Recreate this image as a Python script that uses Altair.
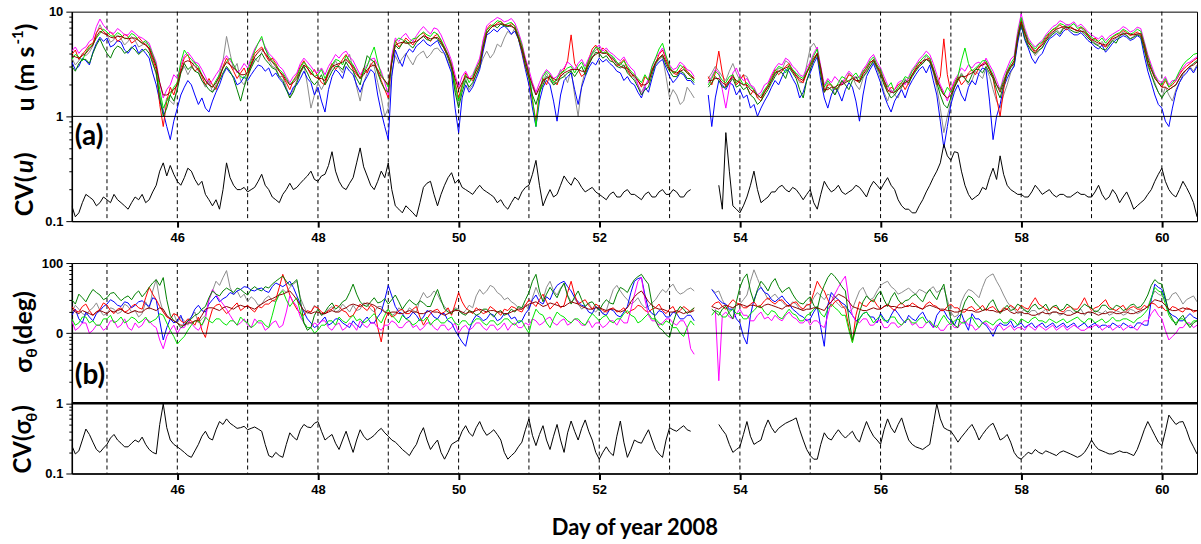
import altair as alt
import pandas as pd

N = None
DAYS = [round(44.5 + 0.05 * i, 2) for i in range(321)]
GRID_DAYS = list(range(45, 61))
X_TICKS = [46, 48, 50, 52, 54, 56, 58, 60]
U_TICKS = [0.1, 0.2, 0.3, 0.4, 0.5, 0.6, 0.7, 0.8, 0.9, 1, 2, 3, 4, 5, 6, 7, 8, 9, 10]
S_TICKS = [0.1, 0.2, 0.3, 0.4, 0.5, 0.6, 0.7, 0.8, 0.9, 1, 2, 3, 4, 5, 6, 7, 8, 9,
           10, 20, 30, 40, 50, 60, 70, 80, 90, 100]

# ---------------- panel (a): wind speed u (m/s), one row per day ----------------
U_GRAY = [3.6,3.1,3.4,4.0,3.8,4.1,4.7,6.2,7.5,6.4,6.0,5.1,5.4,6.0,5.5,4.8,5.2,5.8,5.3,4.6,
          4.8,5.1,4.3,3.3,2.5,1.6,1.1,1.5,1.4,1.3,1.9,2.6,3.0,2.5,2.9,3.3,2.7,2.2,1.9,2.2,
          1.7,2.0,2.6,3.4,5.8,4.0,2.8,3.2,2.2,2.0,2.5,3.0,3.6,3.3,4.1,4.6,3.5,3.0,2.9,2.4,
          2.4,1.9,1.5,1.8,2.2,2.7,3.1,2.0,1.2,1.6,2.1,1.8,2.1,2.5,2.9,3.4,2.9,2.6,3.4,3.9,
          2.8,1.9,1.4,2.1,2.6,3.2,3.0,2.1,1.5,1.0,1.2,2.6,3.8,3.2,3.6,4.0,3.5,3.1,3.7,4.0,
          4.2,3.6,3.9,4.4,4.5,4.1,4.0,3.3,2.8,1.8,1.3,1.9,2.3,1.8,2.0,2.5,2.9,3.6,4.2,3.6,
          4.0,4.9,4.6,5.6,6.5,6.0,7.0,5.8,4.4,3.0,2.4,1.9,1.6,1.8,2.1,2.6,2.2,2.0,2.3,2.8,
          2.5,2.1,2.8,1.6,1.0,2.0,2.7,3.3,3.9,4.3,4.5,4.0,4.3,3.8,3.6,3.1,3.3,2.9,2.7,2.6,
          2.3,2.0,1.7,2.0,2.2,2.7,3.1,3.5,3.7,2.4,1.5,1.8,1.6,1.3,1.4,1.9,1.7,1.5,N,N,
          N,2.3,2.6,3.0,2.7,2.4,2.2,2.7,3.2,2.6,2.2,2.5,2.4,2.0,1.8,1.5,1.6,1.8,1.9,2.2,
          2.5,2.9,2.8,3.4,3.2,2.8,2.5,2.1,2.1,3.1,4.5,5.0,4.3,2.6,1.7,2.1,2.0,1.6,1.8,2.2,
          2.1,2.6,2.4,2.0,1.8,2.3,2.7,3.0,3.3,2.8,2.3,1.7,1.4,1.8,1.6,1.5,1.9,2.3,2.0,2.5,
          2.8,3.1,3.3,3.8,3.4,2.6,1.9,1.2,0.7,1.0,1.4,1.9,2.2,2.6,2.3,2.0,2.2,2.7,2.5,2.3,
          2.9,2.4,1.8,1.4,1.2,1.6,2.0,2.6,3.1,5.5,8.0,6.0,4.8,4.3,3.8,4.2,4.6,5.2,5.8,6.3,
          6.8,6.3,7.1,7.6,7.2,6.8,6.6,7.0,6.4,5.8,5.4,5.0,4.8,5.2,4.6,4.9,5.3,5.6,5.9,6.4,
          6.0,5.5,5.8,6.2,5.9,4.5,3.0,2.5,2.1,1.7,1.5,1.9,1.6,1.4,1.8,2.1,2.5,2.8,3.0,2.7,
          3.1]
U_BLUE = [3.3,2.8,3.0,3.6,3.4,3.1,4.1,5.0,5.7,5.2,5.6,4.6,4.8,5.3,5.1,4.3,4.0,4.5,4.8,4.0,
          4.4,4.0,3.6,2.6,2.0,1.4,1.1,0.8,0.6,0.9,1.2,1.6,1.9,2.2,2.0,1.6,1.3,1.5,1.2,1.1,
          1.4,1.7,2.0,2.5,2.9,2.6,2.4,2.0,2.1,2.4,2.2,2.5,2.8,3.1,3.0,2.7,2.9,2.4,2.6,2.3,
          2.1,1.8,1.6,1.9,2.0,2.3,2.7,2.3,2.1,1.6,1.9,1.4,1.1,1.8,2.4,2.8,2.6,2.3,3.0,2.7,
          2.5,2.0,1.7,2.1,2.4,2.8,2.6,1.6,1.1,0.8,0.6,2.4,4.3,3.5,3.0,3.9,4.4,4.1,4.7,5.0,
          5.4,4.9,4.7,5.0,5.3,4.5,4.0,3.2,2.6,1.2,0.7,1.5,2.0,1.7,1.9,2.3,2.8,4.2,6.0,6.3,
          6.8,6.4,7.0,7.3,6.8,6.1,6.5,5.5,4.0,2.8,2.0,1.2,0.8,1.4,1.9,2.2,2.0,1.4,0.9,1.6,
          2.2,2.4,2.6,1.8,1.3,1.9,2.4,2.9,3.3,3.1,3.6,3.3,3.5,3.2,3.0,2.7,2.6,2.2,2.4,2.1,
          2.0,1.7,1.5,1.9,1.7,2.3,3.0,3.3,3.5,2.9,2.4,2.1,2.3,2.6,2.5,2.2,2.2,2.0,N,N,
          N,1.6,0.8,1.5,2.2,2.0,1.8,2.1,2.0,1.6,1.8,1.5,1.6,1.2,1.3,1.0,1.2,1.4,1.6,1.9,
          2.2,2.0,2.4,2.8,2.7,2.3,2.0,1.5,1.7,2.2,2.6,3.2,3.7,2.2,1.5,1.2,1.6,1.9,1.7,1.4,
          1.8,2.1,1.9,1.4,0.9,1.6,2.4,2.8,3.2,2.6,2.1,1.6,1.3,1.1,1.4,1.6,1.8,1.5,1.9,2.2,
          2.5,2.8,3.0,2.6,3.1,2.2,1.6,0.9,0.5,0.8,1.3,1.7,2.0,1.6,1.4,1.9,2.2,2.0,2.6,2.9,
          2.8,1.4,0.6,1.0,1.3,1.9,2.3,2.7,3.0,5.0,7.5,5.4,4.5,3.6,3.2,3.7,4.0,4.8,5.5,5.8,
          6.2,5.8,6.5,6.9,6.4,6.0,6.0,6.3,5.8,5.3,5.0,4.6,4.4,4.8,4.1,4.5,5.0,5.4,5.6,5.9,
          5.7,5.3,5.5,5.9,5.6,3.8,2.7,2.1,1.6,1.3,1.2,0.9,0.8,1.2,1.7,2.1,2.4,2.6,2.9,2.6,
          3.0]
U_RED = [3.9,4.3,3.5,3.9,4.3,4.8,5.0,6.3,7.0,6.5,6.0,6.4,5.9,5.2,5.5,6.1,5.8,5.0,5.3,5.7,
         5.2,4.8,4.4,3.5,2.8,1.3,0.8,1.4,1.9,1.6,2.1,2.9,3.6,3.9,3.1,2.7,2.9,2.4,2.0,2.3,
         2.0,1.8,2.3,3.0,3.6,3.1,2.7,2.3,2.6,2.9,2.4,3.2,4.0,4.3,4.6,3.9,3.4,3.6,3.2,2.7,
         2.4,2.1,1.8,2.2,2.5,3.0,3.4,2.9,2.5,2.8,2.4,2.1,2.0,2.7,3.2,2.8,3.1,3.5,3.9,3.3,
         2.8,2.5,2.3,2.9,2.6,3.1,3.4,2.7,2.2,1.8,1.5,3.6,5.3,4.6,5.0,5.6,5.2,4.8,5.5,6.0,
         6.3,5.6,5.2,5.8,6.1,5.3,4.3,3.8,3.2,2.1,1.5,2.0,2.6,2.3,2.2,2.8,3.4,5.2,6.8,7.5,
         7.2,7.8,8.1,7.5,7.2,7.7,7.3,5.6,4.2,3.0,2.3,1.4,0.9,1.7,2.3,2.0,2.5,2.2,2.0,2.5,
         2.8,3.4,6.0,3.2,2.8,2.4,2.6,3.5,4.4,4.8,4.0,4.5,4.2,3.7,3.3,3.0,3.2,3.5,2.8,2.4,
         2.5,2.2,1.9,2.4,2.2,2.8,3.2,3.9,4.3,3.5,2.9,2.6,2.5,2.8,3.0,2.7,2.5,2.3,N,N,
         N,2.4,2.0,2.6,4.2,2.6,1.9,2.2,2.5,2.0,2.2,2.5,1.9,1.6,1.8,1.5,1.4,1.7,2.0,2.4,
         2.8,2.5,2.7,3.0,3.2,2.7,2.4,2.2,2.1,2.6,3.2,3.6,4.0,2.6,1.7,2.0,2.0,1.8,1.9,2.1,
         2.2,2.5,2.4,2.2,2.1,2.6,3.0,3.3,3.4,3.0,2.7,2.1,1.7,1.9,1.8,2.0,2.1,1.8,2.1,2.5,
         2.9,3.3,3.2,3.5,3.6,2.8,2.0,2.4,5.5,2.5,1.7,2.1,2.4,2.0,2.2,2.6,2.8,2.5,2.9,3.2,
         3.3,2.8,2.3,1.5,1.0,1.8,2.7,3.0,3.3,5.8,8.2,6.2,5.2,4.5,4.0,4.6,5.0,5.6,6.2,6.7,
         7.0,7.5,7.0,6.7,7.2,6.8,6.5,7.1,6.8,5.9,5.3,5.6,5.2,4.8,4.6,5.2,5.7,6.0,6.2,6.6,
         6.3,5.9,6.1,6.4,6.0,4.6,3.2,2.8,2.4,2.1,1.9,2.2,1.9,2.0,2.2,2.5,2.8,3.0,3.2,3.4,
         3.6]
U_MAGENTA = [4.2,4.6,4.0,4.4,4.6,5.2,5.5,7.2,8.5,7.4,6.8,6.3,6.2,6.9,6.5,6.0,6.0,6.6,6.2,5.8,
             5.6,5.3,5.0,4.0,3.3,2.1,1.5,1.8,2.0,2.5,2.3,3.1,3.8,4.1,3.7,3.3,3.2,2.8,2.4,2.0,
             2.2,2.5,2.8,3.4,3.8,3.4,3.1,2.6,2.8,3.2,2.9,3.6,4.4,5.0,5.5,4.6,4.0,3.7,3.4,3.0,
             2.8,2.4,2.1,2.4,2.6,3.2,3.6,3.3,3.0,2.7,2.6,2.9,2.5,3.0,3.4,3.9,3.6,4.0,4.2,3.7,
             3.4,2.9,2.5,2.8,3.1,3.5,3.6,3.1,2.7,2.1,1.6,3.8,5.6,5.2,5.8,6.2,5.5,5.2,5.9,6.6,
             7.2,6.6,6.1,7.0,6.8,6.0,5.0,4.2,3.4,2.5,1.9,2.4,2.7,2.3,2.5,3.0,3.6,5.4,7.3,7.9,
             8.3,8.8,8.5,8.0,8.2,8.6,7.8,6.4,5.0,3.6,2.8,2.1,1.7,2.1,2.5,2.8,2.6,2.3,2.4,2.7,
             2.9,3.3,3.1,2.8,3.2,3.5,3.0,3.6,4.1,4.5,4.8,4.2,4.5,4.1,3.9,3.6,3.4,3.7,3.2,2.9,
             2.7,2.0,1.6,1.9,2.3,3.0,3.6,4.0,4.5,3.7,3.1,2.8,2.9,3.3,3.1,2.8,2.7,2.4,N,N,
             N,2.1,2.4,2.8,2.6,1.8,1.2,1.9,2.6,2.9,2.4,2.2,2.3,2.0,1.9,1.6,1.7,2.0,2.1,2.5,
             2.9,3.2,3.1,3.6,3.4,3.0,2.8,2.5,2.4,2.9,3.3,4.0,4.6,3.0,2.0,2.3,2.1,2.4,2.2,2.0,
             2.4,2.7,2.5,2.3,2.4,2.8,3.1,3.6,3.9,3.3,2.9,2.4,2.0,1.7,1.8,2.1,2.2,2.0,2.4,2.8,
             3.1,3.5,3.8,4.2,3.9,3.2,2.5,2.0,1.7,1.4,1.8,2.2,2.5,2.9,2.7,3.1,2.9,3.2,3.3,3.0,
             3.6,3.1,2.7,2.2,1.8,2.4,2.9,3.5,3.8,6.5,9.5,7.0,5.6,5.0,4.6,5.0,5.3,6.0,6.6,7.2,
             7.5,8.2,7.9,7.4,7.6,8.0,7.2,7.6,7.0,6.4,6.0,5.7,5.5,5.9,5.3,5.8,6.1,6.4,6.7,7.2,
             6.9,6.4,6.6,7.1,6.9,5.2,3.9,3.1,2.5,2.2,2.1,2.4,2.0,2.2,2.2,2.6,2.9,3.2,3.3,3.5,
             3.7]
U_LIME = [3.5,3.9,3.7,3.4,4.1,4.6,4.9,5.6,6.2,6.8,6.4,5.9,5.8,6.3,6.0,5.5,5.6,6.2,5.9,5.3,
          5.0,5.3,4.7,3.9,3.1,1.8,1.2,1.4,1.6,1.9,2.1,3.3,4.3,3.8,3.5,3.2,3.0,2.5,2.2,2.0,
          1.9,2.2,2.5,2.9,3.3,3.6,3.1,2.7,2.4,2.3,2.7,3.4,4.2,5.0,5.8,4.4,3.8,3.4,3.1,2.8,
          2.6,2.3,2.0,2.2,2.4,2.9,3.3,3.0,2.8,2.4,2.5,2.8,2.3,2.7,3.1,3.5,3.4,3.1,3.8,3.4,
          3.1,2.7,2.3,2.6,3.0,3.8,4.6,3.3,2.5,2.2,1.9,3.4,5.2,5.6,5.4,5.0,5.1,5.5,5.6,6.0,
          6.4,6.0,5.8,6.4,6.1,5.4,4.6,3.9,3.1,2.0,1.4,1.9,2.5,2.1,2.4,2.9,3.3,4.9,6.6,7.2,
          7.6,8.2,8.0,7.4,7.7,7.9,7.3,6.0,4.8,3.4,2.6,1.5,0.8,1.6,2.4,2.7,2.5,2.1,2.3,2.6,
          2.7,2.9,3.0,2.6,3.0,3.3,2.8,3.4,4.0,4.6,4.4,4.0,4.1,3.9,3.7,3.3,3.1,3.4,3.0,2.7,
          2.5,2.3,2.1,2.5,2.2,3.0,3.6,4.4,5.0,3.8,3.0,2.6,2.7,3.1,2.9,2.6,2.5,2.2,N,N,
          N,2.0,2.3,2.7,2.5,2.2,2.1,2.4,2.5,2.1,2.3,2.0,2.1,1.9,1.8,1.6,1.5,1.8,2.0,2.3,
          2.7,3.0,2.9,2.6,3.1,2.8,2.6,2.4,2.3,2.7,3.1,3.8,4.4,2.8,1.9,2.2,2.0,1.8,2.1,2.4,
          2.3,2.1,2.4,2.6,2.3,2.7,2.9,3.4,3.7,3.1,2.8,2.2,1.9,2.1,1.7,1.9,2.1,2.4,2.3,2.7,
          3.0,3.3,3.6,3.9,3.6,2.9,2.3,1.8,1.6,1.9,1.7,2.0,2.4,3.4,4.5,3.2,2.7,2.9,3.1,3.4,
          3.4,2.9,2.5,2.0,1.8,2.2,2.7,3.2,3.6,6.0,8.8,6.6,5.3,4.8,4.4,4.9,5.1,5.8,6.3,6.8,
          7.1,7.7,7.5,7.0,7.3,7.7,6.9,7.2,6.7,6.1,5.7,5.4,5.2,5.6,5.0,5.5,5.8,6.1,6.3,6.8,
          6.5,6.1,6.3,6.8,6.5,5.0,3.7,2.9,2.4,2.1,2.0,2.3,1.9,2.1,2.3,2.7,3.1,3.4,3.6,3.9,
          4.0]
U_DKGREEN = [3.0,2.7,3.2,3.5,3.5,3.2,4.0,4.8,5.5,4.6,4.0,3.6,4.3,4.7,4.5,4.0,4.2,4.6,4.3,3.9,
             4.2,4.4,4.0,3.2,2.6,1.5,1.0,1.2,1.6,1.4,1.8,2.6,3.2,2.8,3.0,2.7,2.6,2.2,2.0,1.8,
             1.7,1.9,2.2,2.6,3.0,2.7,2.3,1.8,1.4,1.9,2.4,2.9,3.4,3.7,4.0,3.5,3.2,2.9,2.8,2.4,
             2.2,1.8,1.5,1.7,2.1,2.6,3.0,2.6,2.2,2.0,2.2,2.5,2.0,2.3,2.7,3.0,3.0,2.8,3.3,2.9,
             2.7,2.3,2.0,2.8,3.8,3.5,3.3,2.6,2.1,1.8,1.7,3.2,4.8,4.4,5.0,5.3,4.8,4.5,5.1,5.5,
             5.8,5.4,5.3,5.7,5.5,4.9,4.4,3.6,2.9,1.7,1.2,1.7,2.2,1.9,2.1,2.5,3.0,4.6,6.2,6.9,
             7.4,7.0,7.6,7.3,7.2,7.4,6.8,5.5,4.3,3.1,2.3,1.6,1.3,1.7,2.0,2.4,2.3,2.0,2.1,2.3,
             2.4,2.6,2.7,2.4,2.7,3.0,2.5,3.1,3.6,4.1,4.0,3.6,3.8,3.4,3.3,3.0,2.9,3.1,2.6,2.4,
             2.2,1.9,1.6,1.8,1.9,2.5,3.2,3.6,3.8,3.1,2.7,2.4,2.4,2.7,2.6,2.3,2.3,2.1,N,N,
             N,1.9,2.1,2.4,2.2,1.9,1.9,2.1,2.3,1.9,2.0,1.8,1.9,1.6,1.5,1.3,1.4,1.6,1.8,2.1,
             2.4,2.7,2.6,2.3,2.9,2.6,2.3,1.8,1.5,2.2,2.8,3.4,3.9,2.5,1.7,1.9,1.8,1.6,1.9,2.2,
             2.0,1.8,2.2,2.4,2.1,2.4,2.6,3.0,3.4,2.9,2.5,2.0,1.7,1.5,1.6,1.8,1.9,2.2,2.1,2.4,
             2.7,3.0,3.2,3.5,3.3,2.7,2.1,1.6,1.3,1.2,1.5,1.9,2.2,2.5,2.3,2.1,2.5,2.8,2.8,2.6,
             3.0,2.6,2.3,1.8,1.5,2.0,2.5,2.9,3.2,5.4,7.6,5.6,4.7,4.2,4.0,4.3,4.5,5.2,5.7,6.1,
             6.5,6.1,6.9,7.2,6.7,6.4,6.3,6.6,6.1,5.6,5.2,4.9,4.7,4.4,4.3,4.8,5.3,5.0,5.8,6.2,
             5.9,5.5,5.7,6.0,5.8,4.3,3.2,2.5,2.0,1.7,1.5,1.7,1.8,1.9,2.0,2.3,2.6,2.8,3.0,3.2,
             3.4]
U_DKRED = [3.8,3.7,3.6,3.8,4.0,4.4,4.8,5.8,6.5,6.2,6.0,5.7,5.6,5.8,5.8,5.6,5.5,5.6,5.6,5.3,
           5.0,4.8,4.5,3.7,3.0,2.1,1.6,1.6,1.7,1.8,2.0,2.7,3.3,3.4,3.3,3.0,2.8,2.5,2.2,2.0,
           1.9,2.1,2.4,2.9,3.3,3.1,2.9,2.7,2.5,2.5,2.6,3.1,3.7,4.1,4.4,4.0,3.6,3.3,3.0,2.7,
           2.5,2.2,2.0,2.1,2.3,2.7,3.1,2.9,2.6,2.4,2.3,2.3,2.2,2.6,3.0,3.1,3.2,3.3,3.5,3.2,
           3.0,2.6,2.3,2.5,2.8,3.0,3.1,2.8,2.4,2.2,2.0,3.3,4.8,5.0,5.1,5.0,5.0,5.1,5.2,5.5,
           5.9,5.7,5.5,5.6,5.7,5.1,4.5,3.8,3.0,2.3,1.8,2.1,2.4,2.3,2.3,2.7,3.1,4.6,6.3,6.9,
           7.4,7.5,7.7,7.5,7.4,7.2,7.0,5.7,4.5,3.4,2.5,2.0,1.6,1.9,2.2,2.3,2.4,2.3,2.2,2.4,
           2.6,2.7,2.8,2.8,2.8,2.7,2.7,3.2,3.7,3.9,4.1,4.0,4.0,3.7,3.5,3.2,3.0,2.9,2.9,2.6,
           2.4,2.2,2.0,2.0,2.1,2.7,3.3,3.6,3.9,3.3,2.8,2.7,2.6,2.7,2.8,2.6,2.4,2.3,N,N,
           N,2.2,2.2,2.3,2.3,2.1,2.0,2.2,2.4,2.2,2.1,2.0,2.0,1.8,1.7,1.6,1.5,1.7,1.9,2.2,
           2.6,2.7,2.8,2.9,3.0,2.7,2.5,2.3,2.2,2.6,3.0,3.5,4.0,2.9,1.8,1.8,1.9,1.9,2.0,2.0,
           2.1,2.2,2.3,2.2,2.2,2.5,2.8,3.2,3.5,3.0,2.6,2.2,1.8,1.7,1.7,1.8,2.0,2.1,2.2,2.5,
           2.8,3.1,3.4,3.5,3.4,2.8,2.2,1.9,1.6,1.5,1.6,1.9,2.3,2.4,2.4,2.5,2.6,2.8,3.0,3.1,
           3.2,2.8,2.4,2.0,1.7,2.1,2.6,3.0,3.4,5.7,8.0,6.3,5.0,4.6,4.2,4.5,4.8,5.4,6.0,6.4,
           6.8,7.0,7.2,7.1,7.0,6.8,6.6,6.5,6.4,5.9,5.5,5.2,5.0,4.9,4.8,5.1,5.5,5.7,6.0,6.1,
           6.2,6.1,6.0,6.1,6.2,4.8,3.5,2.8,2.3,2.1,1.9,1.9,1.8,1.9,2.0,2.3,2.6,2.8,3.0,3.1,
           3.3]
CV_U = [0.14,0.11,0.12,0.15,0.18,0.17,0.16,0.14,0.15,0.17,0.16,0.15,0.18,0.16,0.15,0.14,0.13,0.15,0.17,0.16,
        0.18,0.15,0.16,0.19,0.22,0.30,0.36,0.27,0.34,0.28,0.24,0.22,0.26,0.32,0.30,0.25,0.22,0.24,0.18,0.16,
        0.14,0.16,0.13,0.20,0.36,0.26,0.22,0.20,0.20,0.21,0.19,0.20,0.21,0.24,0.28,0.22,0.20,0.17,0.16,0.15,
        0.18,0.20,0.23,0.20,0.21,0.23,0.25,0.27,0.30,0.25,0.24,0.27,0.28,0.34,0.46,0.30,0.24,0.21,0.20,0.23,
        0.26,0.36,0.50,0.33,0.27,0.22,0.20,0.24,0.30,0.26,0.36,0.20,0.14,0.13,0.12,0.14,0.13,0.12,0.11,0.15,
        0.21,0.23,0.24,0.18,0.14,0.18,0.22,0.26,0.29,0.23,0.25,0.21,0.20,0.19,0.18,0.20,0.22,0.20,0.19,0.18,
        0.17,0.15,0.16,0.14,0.13,0.15,0.17,0.16,0.19,0.21,0.22,0.28,0.38,0.22,0.14,0.17,0.20,0.17,0.18,0.22,
        0.27,0.24,0.22,0.26,0.24,0.21,0.19,0.20,0.21,0.19,0.18,0.17,0.16,0.18,0.19,0.17,0.17,0.19,0.20,0.18,
        0.18,0.17,0.16,0.18,0.19,0.17,0.17,0.19,0.20,0.18,0.18,0.20,0.19,0.17,0.17,0.19,0.20,N,N,N,
        N,N,N,N,0.22,0.13,0.70,0.30,0.14,0.13,0.12,0.14,0.17,0.22,0.30,0.20,0.15,0.16,0.17,0.19,
        0.19,0.21,0.22,0.20,0.19,0.21,0.20,0.18,0.16,0.18,0.20,0.15,0.13,0.18,0.24,0.21,0.19,0.20,0.22,0.19,
        0.18,0.19,0.20,0.22,0.21,0.19,0.17,0.21,0.24,0.22,0.20,0.23,0.26,0.22,0.20,0.16,0.14,0.13,0.13,0.12,
        0.12,0.14,0.16,0.19,0.22,0.26,0.30,0.36,0.54,0.42,0.38,0.46,0.45,0.30,0.22,0.18,0.16,0.17,0.18,0.21,
        0.20,0.26,0.32,0.25,0.42,0.28,0.22,0.20,0.19,0.18,0.18,0.17,0.17,0.19,0.22,0.20,0.18,0.19,0.20,0.18,
        0.17,0.18,0.18,0.17,0.17,0.18,0.19,0.18,0.18,0.17,0.17,0.19,0.22,0.18,0.16,0.17,0.20,0.18,0.15,0.17,
        0.19,0.16,0.13,0.14,0.15,0.16,0.18,0.20,0.24,0.28,0.32,0.24,0.20,0.18,0.17,0.20,0.24,0.21,0.18,0.15,
        0.11]

# ---------------- panel (b): sigma_theta (deg), one row per day ----------------
S_GRAY = [20,25,22,19,18,21,23,27,21,18,19,23,22,19,20,26,24,20,21,17,
          19,28,22,40,58,30,20,18,16,19,14,17,15,13,17,20,14,16,18,30,
          40,55,48,62,78,45,35,40,32,36,28,33,30,25,26,31,34,29,28,36,
          42,38,45,50,55,32,24,19,20,25,22,18,19,22,24,20,21,26,23,20,
          25,21,22,27,26,22,20,24,24,20,22,18,19,23,21,19,23,21,20,30,
          38,32,34,40,36,28,24,21,20,23,22,19,21,25,23,34,42,36,40,48,
          45,38,35,30,32,28,26,23,22,26,21,32,45,34,30,45,55,40,35,44,
          50,35,28,31,26,22,24,27,22,20,23,19,21,30,42,48,40,34,30,26,
          28,32,26,23,24,27,30,36,42,38,45,50,40,36,38,42,44,40,N,N,
          N,N,42,38,40,30,24,21,22,25,26,30,35,55,80,60,45,38,30,33,
          36,31,28,25,24,28,26,22,22,26,25,32,38,34,30,36,34,29,26,23,
          24,20,22,30,40,45,35,30,32,40,48,52,55,46,42,36,38,41,44,39,
          36,42,40,37,42,46,38,41,44,30,20,17,18,28,36,42,40,36,32,45,
          60,66,70,55,45,35,28,24,22,19,20,22,19,21,21,18,20,22,18,20,
          20,18,19,21,21,19,20,22,18,20,19,21,20,19,21,18,19,21,20,18,
          19,22,21,19,20,22,24,32,40,36,34,30,30,36,38,32,26,30,32,34,
          28]
S_BLUE = [18,22,16,14,20,17,15,19,21,24,26,30,28,25,24,28,27,23,25,28,
          29,26,24,32,30,15,8,12,16,14,15,18,13,15,17,22,25,21,20,26,
          30,34,28,31,33,38,36,40,42,46,45,41,40,43,44,40,38,46,52,49,
          46,50,55,45,34,26,20,16,14,12,13,15,17,13,14,16,16,14,13,12,
          15,13,12,15,17,14,14,17,20,30,48,34,24,20,19,16,17,20,18,15,
          17,21,20,17,16,19,19,15,14,11,9,7.5,6.5,11,15,18,17,15,16,19,
          18,15,16,19,19,16,17,14,15,19,22,30,35,28,26,33,30,40,48,52,
          55,46,40,32,28,25,24,20,19,24,22,19,18,22,21,18,17,20,24,38,
          55,60,62,35,22,19,18,21,20,17,17,20,19,16,16,18,18,15,N,N,
          N,N,42,36,30,27,26,22,22,16,14,9,7,18,30,40,45,38,36,30,
          28,31,34,29,26,22,20,18,17,15,16,20,24,12,6.5,25,38,33,30,27,
          25,21,18,15,16,19,20,17,17,14,19,16,14,18,22,19,16,14,18,16,
          15,18,20,16,14,12,18,21,21,17,15,13,17,19,14,11,19,16,16,14,
          13,11,9,12,14,13,13,15,12,13,14,12,13,14,12,13,14,12,13,14,
          12,13,14,12,13,14,12,13,14,12,13,14,12,13,13,12,14,13,12,14,
          13,12,12,14,14,13,13,30,50,45,42,30,20,18,17,15,15,17,19,17,
          16]
S_RED = [24,21,20,24,26,21,18,20,22,27,25,21,19,22,23,20,21,24,26,23,
         22,32,45,36,30,24,20,17,16,19,18,15,14,16,15,13,17,11,8.7,15,
         22,25,26,22,19,21,24,27,21,23,25,22,20,24,23,26,26,29,30,45,
         69,50,35,27,22,19,18,21,20,24,23,20,19,21,22,25,24,21,20,17,
         18,22,26,23,21,25,23,12,7.5,15,20,17,18,21,22,19,19,22,24,17,
         13,16,19,21,22,19,20,23,18,26,38,28,23,21,19,23,21,19,20,24,
         22,20,18,22,21,24,23,21,20,25,30,27,24,30,36,28,22,25,28,23,
         25,38,55,35,26,28,30,25,22,26,24,21,20,22,23,20,21,23,19,21,
         22,25,24,21,20,22,23,26,21,19,22,24,19,21,24,22,20,23,N,N,
         N,N,24,27,28,24,22,26,30,27,26,23,23,26,28,24,25,29,32,28,
         26,29,30,26,24,27,28,24,22,25,26,38,55,45,40,30,24,28,30,25,
         22,12,7.5,18,28,25,24,28,30,25,22,24,26,23,21,25,27,24,24,27,
         25,23,22,26,28,25,24,21,21,24,26,23,23,20,20,23,24,21,22,25,
         21,23,24,21,20,23,22,25,23,21,25,23,22,27,32,26,24,22,21,24,
         23,21,20,23,24,22,22,26,32,25,21,23,24,27,30,24,22,21,23,25,
         21,23,24,22,22,25,23,27,26,23,24,21,21,24,23,21,20,23,22,20,
         21]
S_MAGENTA = [15,11,12,14,14,10,11,13,13,11,12,15,15,12,13,16,12,11,14,12,
             13,16,15,13,12,8,6,9,11,13,10,12,12,15,14,12,11,13,16,30,
             42,36,30,26,22,18,15,13,14,16,13,12,16,14,14,11,12,14,15,12,
             13,20,34,28,24,17,14,12,12,14,13,15,15,12,11,13,14,11,12,14,
             13,11,15,13,12,14,14,12,11,13,13,15,14,12,12,14,15,12,13,11,
             12,14,14,12,11,13,13,11,12,14,10,12,13,11,12,14,14,12,11,13,
             13,11,12,14,11,13,14,12,12,14,13,16,15,13,14,16,17,14,13,15,
             16,13,14,16,15,13,13,15,12,14,14,12,13,15,15,13,16,14,14,22,
             35,55,62,30,18,15,15,13,14,16,16,14,13,15,15,12,6,5,N,N,
             N,N,N,22,2.1,18,20,17,16,19,22,18,18,15,15,18,20,16,17,15,
             18,16,15,18,20,17,16,14,14,16,13,15,15,13,12,18,28,36,45,55,
             65,30,18,15,14,16,16,13,13,15,15,12,12,14,14,12,13,15,16,13,
             14,12,12,14,15,12,13,11,11,13,14,12,12,14,15,13,13,11,12,14,
             14,12,11,13,13,11,12,13,11,12,12,11,13,12,11,13,12,11,12,13,
             11,12,13,11,12,13,12,11,11,12,12,13,13,11,12,13,11,12,13,11,
             12,13,12,11,13,15,15,19,22,18,16,11,8,9,10,12,12,14,14,12,
             13]
S_LIME = [16,13,14,17,17,14,15,13,13,16,16,18,14,15,17,14,15,17,16,14,
          15,17,14,15,16,19,18,14,11,9,7,8,9,11,13,15,15,13,17,15,
          14,16,16,14,13,15,15,13,17,15,14,12,13,15,15,13,12,18,28,36,
          40,30,24,28,32,20,14,12,12,10,11,13,13,15,15,13,17,15,14,16,
          18,15,16,14,15,17,19,16,14,18,22,18,16,14,18,16,15,13,14,16,
          15,17,13,15,16,14,14,16,17,14,13,15,15,13,14,16,16,14,13,15,
          15,13,14,16,16,14,13,15,15,12,10,16,22,19,18,14,12,16,20,18,
          17,15,14,16,16,14,13,16,19,17,15,17,18,15,14,16,16,19,21,18,
          17,14,15,17,19,16,16,14,13,15,14,12,12,10,9,12,15,13,N,N,
          N,N,18,21,20,17,17,20,22,19,19,16,16,19,21,24,24,20,18,21,
          20,17,16,19,22,19,18,15,15,18,19,22,24,19,17,22,26,23,21,18,
          18,11,7.3,12,16,19,20,17,14,16,18,15,15,17,17,14,13,15,16,14,
          14,16,17,14,15,13,12,15,18,15,13,15,16,14,14,16,17,14,12,14,
          15,14,13,15,16,14,14,16,15,13,16,15,14,16,17,15,15,14,16,15,
          14,15,16,14,15,16,17,15,14,16,16,14,15,16,14,15,17,15,15,16,
          16,15,14,16,17,19,22,32,45,40,38,26,18,15,14,16,16,14,13,15,
          15]
S_DKGREEN = [30,26,36,32,28,35,42,38,35,30,32,37,38,33,29,32,34,30,36,40,
             33,38,45,52,58,48,62,30,18,15,14,12,13,15,16,18,19,22,24,32,
             40,36,34,40,44,41,38,44,42,38,35,42,46,42,40,46,44,50,55,60,
             65,55,48,52,58,30,14,11,12,18,22,18,20,24,27,22,24,28,30,38,
             50,36,28,25,24,28,32,27,28,31,26,30,35,28,22,26,30,27,25,29,
             27,24,24,32,42,30,22,20,19,22,21,19,18,21,20,18,19,22,22,19,
             17,20,21,18,19,22,20,24,23,30,38,55,69,40,28,36,45,38,32,42,
             52,34,26,33,40,30,24,27,28,24,21,26,30,27,26,36,45,42,38,48,
             58,64,69,58,50,26,15,12,11,9.5,8.7,14,20,24,22,19,21,23,N,N,
             N,N,22,20,18,22,24,19,16,28,45,60,70,40,28,42,55,48,40,52,
             60,46,38,42,45,36,30,27,26,30,33,25,22,36,48,62,72,64,55,46,
             40,16,8,12,20,28,34,30,28,35,40,30,24,32,38,30,26,29,30,34,
             36,31,28,36,42,35,30,40,50,26,16,13,12,20,28,34,32,27,24,21,
             22,27,30,23,19,22,25,21,22,26,24,21,20,24,26,22,23,26,21,24,
             25,21,22,26,24,21,20,23,26,24,23,20,21,25,25,22,22,25,24,21,
             22,25,26,23,24,28,35,48,58,52,50,32,20,16,13,16,18,14,12,14,
             15]
S_DKRED = [22,20,19,21,20,19,18,20,21,20,19,21,20,21,22,20,19,20,21,20,
           20,22,23,22,21,23,22,18,16,15,14,13,13,14,14,15,15,18,22,23,
           23,22,21,23,24,23,22,24,25,24,24,23,22,24,26,28,30,31,33,35,
           36,38,40,35,30,25,21,20,19,20,20,19,19,20,21,20,20,22,23,25,
           26,25,24,26,27,26,25,23,22,20,19,20,20,19,19,20,21,20,20,19,
           19,20,21,20,20,19,18,19,20,21,21,20,19,20,20,21,22,21,20,21,
           21,20,20,19,19,20,21,22,22,24,26,27,28,26,24,25,27,26,25,24,
           24,26,28,27,26,24,23,22,22,23,23,22,21,22,22,21,20,21,23,28,
           33,37,40,34,28,25,23,22,22,21,20,20,21,20,19,20,20,21,N,N,
           N,N,24,23,22,24,25,24,23,25,26,25,24,25,25,24,23,25,26,25,
           24,23,22,24,25,24,23,22,21,22,22,23,23,22,21,25,28,32,36,34,
           32,28,24,23,22,21,21,22,23,22,22,24,25,24,24,23,23,24,25,24,
           24,23,22,24,25,24,23,22,22,21,21,20,20,21,22,21,21,20,20,21,
           22,21,21,20,20,21,22,20,19,20,20,19,19,18,18,19,20,19,19,20,
           20,19,19,18,18,19,20,19,19,20,20,19,18,19,19,20,20,19,19,20,
           20,19,19,20,21,22,24,27,30,29,28,25,22,21,21,22,23,22,22,21,
           21]
CV_S = [0.25,0.19,0.21,0.30,0.43,0.36,0.28,0.22,0.20,0.23,0.26,0.32,0.36,0.30,0.27,0.24,0.24,0.27,0.30,0.28,
        0.33,0.26,0.22,0.20,0.19,0.50,0.98,0.45,0.30,0.26,0.24,0.22,0.20,0.18,0.17,0.21,0.26,0.34,0.40,0.32,
        0.30,0.42,0.55,0.50,0.60,0.52,0.48,0.44,0.45,0.47,0.42,0.44,0.46,0.43,0.40,0.26,0.18,0.17,0.20,0.18,
        0.17,0.26,0.38,0.33,0.30,0.42,0.50,0.46,0.45,0.52,0.55,0.40,0.30,0.33,0.36,0.27,0.22,0.30,0.40,0.28,
        0.20,0.30,0.42,0.34,0.30,0.32,0.35,0.40,0.44,0.38,0.34,0.30,0.28,0.25,0.22,0.20,0.18,0.22,0.26,0.36,
        0.45,0.30,0.22,0.26,0.30,0.20,0.16,0.20,0.26,0.28,0.30,0.40,0.48,0.38,0.34,0.45,0.55,0.42,0.35,0.38,
        0.42,0.36,0.30,0.20,0.16,0.18,0.20,0.24,0.28,0.42,0.60,0.35,0.25,0.36,0.48,0.30,0.22,0.34,0.50,0.30,
        0.20,0.38,0.56,0.40,0.30,0.44,0.58,0.40,0.30,0.20,0.16,0.20,0.24,0.20,0.18,0.34,0.56,0.28,0.17,0.22,
        0.30,0.28,0.27,0.34,0.42,0.30,0.22,0.19,0.17,0.30,0.45,0.42,0.40,0.44,0.48,0.42,0.40,N,N,N,
        N,N,N,N,0.50,0.42,0.36,0.26,0.20,0.22,0.24,0.36,0.55,0.34,0.26,0.28,0.30,0.44,0.58,0.45,
        0.38,0.44,0.48,0.52,0.55,0.58,0.62,0.42,0.30,0.22,0.18,0.16,0.16,0.26,0.38,0.32,0.30,0.36,0.42,0.36,
        0.32,0.36,0.40,0.32,0.28,0.40,0.55,0.42,0.34,0.30,0.26,0.42,0.60,0.45,0.38,0.50,0.62,0.42,0.30,0.26,
        0.24,0.23,0.22,0.24,0.26,0.50,0.98,0.60,0.45,0.42,0.40,0.34,0.28,0.33,0.38,0.44,0.50,0.40,0.30,0.36,
        0.42,0.48,0.52,0.40,0.30,0.32,0.36,0.28,0.20,0.17,0.16,0.18,0.20,0.19,0.22,0.20,0.19,0.21,0.20,0.19,
        0.18,0.20,0.21,0.20,0.19,0.18,0.17,0.18,0.20,0.24,0.30,0.25,0.22,0.21,0.20,0.19,0.19,0.20,0.21,0.20,
        0.20,0.19,0.18,0.22,0.30,0.42,0.55,0.44,0.35,0.28,0.25,0.40,0.68,0.58,0.50,0.54,0.55,0.42,0.30,0.24,
        0.19]

ALL = dict(U_GRAY=U_GRAY, U_BLUE=U_BLUE, U_RED=U_RED, U_MAGENTA=U_MAGENTA, U_LIME=U_LIME,
           U_DKGREEN=U_DKGREEN, U_DKRED=U_DKRED, CV_U=CV_U, S_GRAY=S_GRAY, S_BLUE=S_BLUE,
           S_RED=S_RED, S_MAGENTA=S_MAGENTA, S_LIME=S_LIME, S_DKGREEN=S_DKGREEN,
           S_DKRED=S_DKRED, CV_S=CV_S)
for _name, _vals in ALL.items():
    if len(_vals) != len(DAYS):
        raise SystemExit(f"{_name} has {len(_vals)} values, expected {len(DAYS)}")

COL_GRAY, COL_BLUE, COL_RED = "#8c8c8c", "#0000ff", "#ff0000"
COL_MAGENTA, COL_LIME, COL_DKGREEN, COL_DKRED = "#ff00ff", "#00e600", "#008000", "#8b0000"

W, HA, HB = 1128, 210, 211
TICK_FONT = "Liberation Sans"
TITLE_FONT = "Lato"


def series_df(vals):
    rows = [{"day": d, "v": v, "seg": 0 if d < 53.45 else 1}
            for d, v in zip(DAYS, vals) if v is not None]
    return pd.DataFrame(rows)


XS = alt.Scale(domain=[44.5, 60.5], nice=False, zero=False)


def x_axis(title=None):
    kw = dict(values=X_TICKS, format="d", labelFont=TICK_FONT, labelFontWeight="bold",
              labelFontSize=13, labelColor="black", tickSize=6, tickWidth=2,
              tickColor="black", domainColor="black", domainWidth=1.5, labelPadding=4,
              grid=False, labelFlush=False)
    if title:
        kw.update(title=title, titleFont=TITLE_FONT, titleFontSize=22,
                  titleFontWeight="bold", titleColor="black", titlePadding=21)
    else:
        kw.update(title=None)
    return alt.Axis(**kw)


def y_axis(values, label_expr, major_test):
    return alt.Axis(values=values, labelExpr=label_expr, title=None, labelFont=TICK_FONT,
                    labelFontWeight="bold", labelFontSize=13, labelColor="black",
                    tickColor="black", domainColor="black", domainWidth=1.5,
                    tickSize={"condition": {"test": major_test, "value": 6}, "value": 3},
                    labelPadding=3, grid=False)


def rot_label(pieces, x0, y0):
    layers = []
    y = y0
    for text, size, dx, width, style in pieces:
        layers.append(
            alt.Chart(pd.DataFrame({"t": [text]})).mark_text(
                angle=270, align="left", baseline="middle", font=TITLE_FONT,
                fontSize=size, fontWeight="bold", fontStyle=style, color="black")
            .encode(x=alt.value(x0 + dx), y=alt.value(y), text="t:N"))
        y -= width
    return layers


def text_label(text, x, y, size):
    return alt.Chart(pd.DataFrame({"t": [text]})).mark_text(
        align="left", baseline="middle", font=TITLE_FONT, fontSize=size,
        fontWeight="bold", color="black").encode(x=alt.value(x), y=alt.value(y), text="t:N")


def panel(series, cv, yscale, yax, xax, hlines, labels):
    grid = alt.Chart(pd.DataFrame({"day": GRID_DAYS})).mark_rule(
        color="black", strokeDash=[4, 3], strokeWidth=1).encode(
        x=alt.X("day:Q", scale=XS, axis=xax))
    layers = [grid]
    for vals, col in series:
        layers.append(alt.Chart(series_df(vals)).mark_line(
            color=col, strokeWidth=1, clip=True).encode(
            x=alt.X("day:Q", scale=XS, axis=xax),
            y=alt.Y("v:Q", scale=yscale, axis=yax),
            detail="seg:N"))
    layers.append(alt.Chart(series_df(cv)).mark_line(
        color="black", strokeWidth=1, clip=True).encode(
        x=alt.X("day:Q", scale=XS, axis=xax),
        y=alt.Y("v:Q", scale=yscale, axis=yax),
        detail="seg:N"))
    for val, sw in hlines:
        layers.append(alt.Chart(pd.DataFrame({"v": [val]})).mark_rule(
            color="black", strokeWidth=sw).encode(
            y=alt.Y("v:Q", scale=yscale, axis=yax)))
    layers.extend(labels)
    return alt.layer(*layers)


YS_A = alt.Scale(type="log", domain=[0.1, 10], nice=False)
YAX_A = y_axis(U_TICKS,
               "datum.value == 10 ? '10' : datum.value == 1 ? '1' : datum.value == 0.1 ? '0.1' : ''",
               "datum.value == 10 || datum.value == 1 || datum.value == 0.1")
YS_B = alt.Scale(type="log", domain=[0.1, 100], nice=False)
YAX_B = y_axis(S_TICKS,
               "datum.value == 100 ? '100' : datum.value == 10 ? '0' : datum.value == 1 ? '1' : datum.value == 0.1 ? '0.1' : ''",
               "datum.value == 100 || datum.value == 10 || datum.value == 1 || datum.value == 0.1")

labels_a = (rot_label([("u (m s", 25, 0, 67, "normal"), ("-1", 15, -8, 14, "normal"),
                       (")", 25, 0, 8, "normal")], -46, 100)
            + rot_label([("CV(", 25, 0, 43, "normal"), ("u", 25, 0, 14, "italic"),
                         (")", 25, 0, 8, "normal")], -47, 205)
            + [text_label("(a)", 3, 126, 28)])
labels_b = (rot_label([("σ", 25, 0, 15, "normal"), ("θ", 16, 8, 13, "normal"),
                       ("(deg)", 25, 0, 60, "normal")], -48, 110)
            + rot_label([("CV(σ", 24, 0, 52, "normal"), ("θ", 15, 8, 10, "normal"),
                         (")", 24, 0, 8, "normal")], -48, 211)
            + [text_label("(b)", 3, 113, 28)])

panel_a = panel(
    [(U_GRAY, COL_GRAY), (U_BLUE, COL_BLUE), (U_RED, COL_RED), (U_MAGENTA, COL_MAGENTA),
     (U_LIME, COL_LIME), (U_DKGREEN, COL_DKGREEN), (U_DKRED, COL_DKRED)],
    CV_U, YS_A, YAX_A, x_axis(), [(1, 1)], labels_a).properties(width=W, height=HA)

panel_b = panel(
    [(S_GRAY, COL_GRAY), (S_BLUE, COL_BLUE), (S_RED, COL_RED), (S_MAGENTA, COL_MAGENTA),
     (S_LIME, COL_LIME), (S_DKGREEN, COL_DKGREEN), (S_DKRED, COL_DKRED)],
    CV_S, YS_B, YAX_B, x_axis("Day of year 2008"), [(10, 1), (1, 2.5)], labels_b
).properties(width=W, height=HB)

chart = alt.vconcat(panel_a, panel_b, spacing=42, bounds="flush").properties(
    padding={"left": 10, "top": 4, "right": 2, "bottom": 4}
).configure_view(stroke="black", strokeWidth=1)

chart.save("out.html", embed_options={"renderer": "svg", "actions": False})
